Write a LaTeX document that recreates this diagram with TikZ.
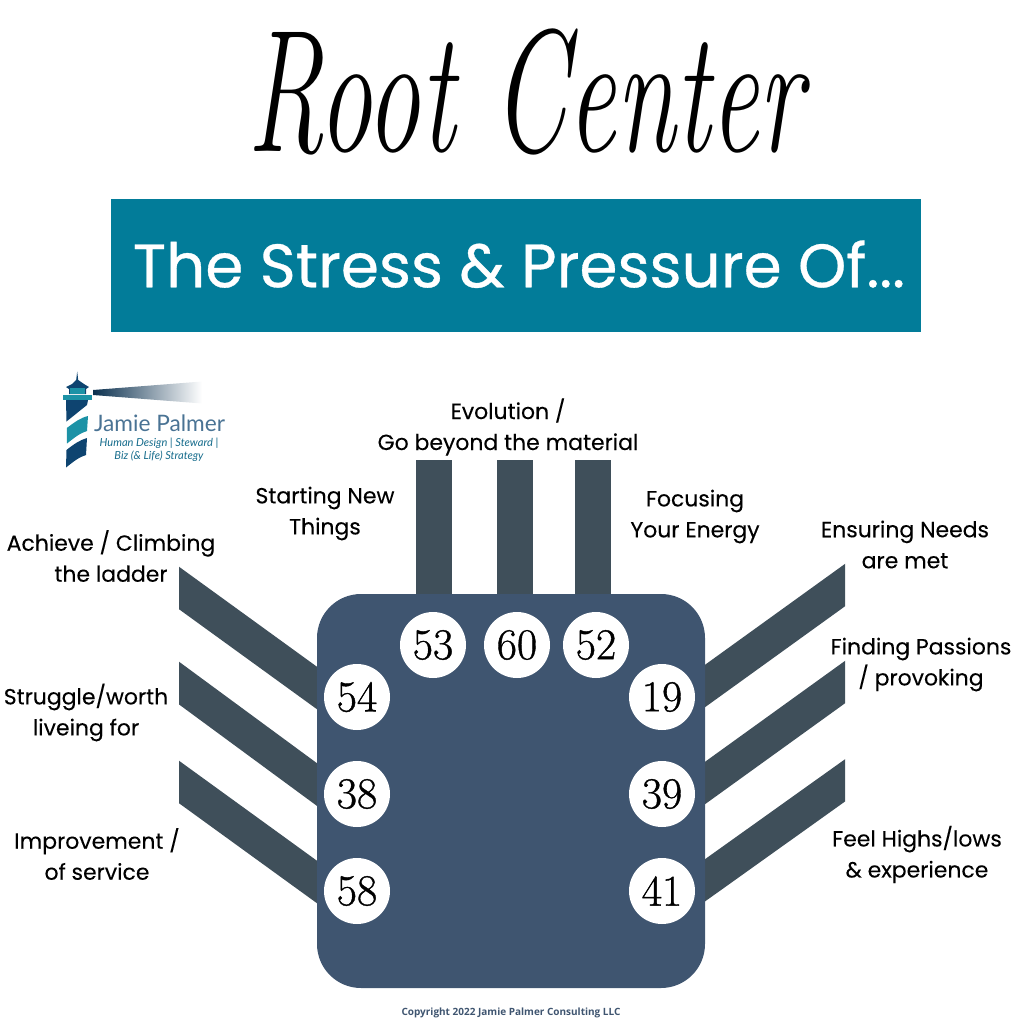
\documentclass[tikz,border=0pt]{standalone}
\usepackage{fontspec}
\setmainfont{Poppins}
\newfontfamily\labfont{Poppins}[FakeBold=0.15]
\newfontfamily\banfont{Poppins}[FakeBold=0.5]
\newfontfamily\numfont{Latin Modern Roman}[FakeBold=0.9]
\newfontfamily\ttlfont{Latin Modern Roman}
\newfontfamily\cpfont{Open Sans}
\newfontfamily\logofont{Lato}
\usetikzlibrary{backgrounds,calc}
\definecolor{banner}{HTML}{027C99}
\definecolor{bodyblue}{HTML}{3F5570}
\definecolor{connc}{HTML}{3F4F5A}
\definecolor{navy}{HTML}{0E4470}
\definecolor{tealc}{HTML}{1C92A6}
\tikzset{
  x=0.75pt,y=-0.75pt,
  gate/.style={circle,fill=white,minimum size=49.5pt,inner sep=0pt,font=\numfont\fontsize{33}{33}\selectfont,text=black},
  lab/.style={align=center,font=\labfont\fontsize{16.45}{23.25}\selectfont,text=black,inner sep=0pt},
  conn/.style={draw=connc,line width=25.8pt,line cap=butt},
  vbar/.style={draw=connc,line width=27pt,line cap=butt},
  tower/.style={fill=navy,draw=none},
}
\begin{document}
\begin{tikzpicture}
\useasboundingbox (0,0) rectangle (1024,1024);
% title
\node[inner sep=0pt,anchor=center,xscale=1.06,yscale=1.72,font=\ttlfont\itshape\fontsize{76}{76}\selectfont,text=black] (title) at (525,92) {Root Center};
% banner
\node[fill=banner,text=white,minimum width=607.5pt,minimum height=99.75pt,inner sep=0pt,font=\banfont\fontsize{46}{46}\selectfont] (banner) at (516,265.5) {\hspace*{4.5pt}\raisebox{2.5pt}{The Stress \& Pressure Of...}};
% body
\fill[bodyblue,rounded corners=33pt] (317,594) rectangle (705,988);
\node[inner sep=0pt,minimum size=0pt] (body) at (511,791) {};
% gates
\node[gate] (g53) at (433,645) {53};
\node[gate] (g60) at (517,645) {60};
\node[gate] (g52) at (596,645) {52};
\node[gate] (g54) at (357,697) {54};
\node[gate] (g38) at (357,794) {38};
\node[gate] (g58) at (357,891) {58};
\node[gate] (g19) at (662,697) {19};
\node[gate] (g39) at (662,794) {39};
\node[gate] (g41) at (662,891) {41};
% free ends
\coordinate (f53) at (434,460);
\coordinate (f60) at (515,460);
\coordinate (f52) at (593,460);
\coordinate (f54) at (79,515.5);
\coordinate (f38) at (79,609.5);
\coordinate (f58) at (79,709.5);
\coordinate (f19) at (945,513);
\coordinate (f39) at (945,610);
\coordinate (f41) at (945,709);
\begin{pgfonlayer}{background}
\draw[vbar] (f53) -- ($(g53.center)+(1,0)$);
\draw[vbar] (f60) -- ($(g60.center)+(-2,0)$);
\draw[vbar] (f52) -- ($(g52.center)+(-3,0)$);
\begin{scope}
\clip (179,450) rectangle (845,1000);
\draw[conn] (f54) -- ($(g54.center)+(0,20)$);
\draw[conn] (f38) -- ($(g38.center)+(0,20)$);
\draw[conn] (f58) -- ($(g58.center)+(0,20)$);
\draw[conn] (f19) -- ($(g19.center)+(0,20)$);
\draw[conn] (f39) -- ($(g39.center)+(0,20)$);
\draw[conn] (f41) -- ($(g41.center)+(0,20)$);
\end{scope}
\end{pgfonlayer}
% labels
\node[lab] (l60) at (508,427) {Evolution /\\Go beyond the material};
\node[lab] (l53) at (325,513.5) {Starting New\\Things};
\node[lab] (l52) at (695,516.5) {Focusing\\Your Energy};
\node[lab] (l54) at (111,556) {Achieve / Climbing\\the ladder};
\node[lab] (l38) at (86,712.5) {Struggle/worth\\liveing for};
\node[lab] (l58) at (97,854) {Improvement /\\of service};
\node[lab] (l19) at (905,544.5) {Ensuring Needs\\are met};
\node[lab] (l39) at (921,664.5) {Finding Passions\\/ provoking};
\node[lab] (l41) at (917,854.5) {Feel Highs/lows\\\& experience};
% copyright
\node[inner sep=0pt,text=bodyblue,font=\cpfont\bfseries\fontsize{7.5}{9}\selectfont] (copy) at (511,1013) {Copyright 2022 Jamie Palmer Consulting LLC};
% logo
\shade[left color=navy!70!black,right color=white,draw=none]
  (93,390) -- (202,381.5) -- (202,403.5) -- (93,395) -- cycle;
\fill[tower] (77.2,371.5) -- (78.2,380) -- (84,384) -- (89,387) -- (86,389) -- (86,394) -- (69,394) -- (69,389) -- (66,387) -- (72,384) -- (76.2,380) -- cycle;
\fill[tealc] (70,388) rectangle (85,394);
\fill[tealc] (63,394.5) rectangle (92,399.5);
\fill[tower] (66,400) -- (88,400) -- (87,405) -- (66.5,421.5) -- cycle;
\fill[tealc] (66.8,428) .. controls (75,422) and (80,418) .. (88,416) -- (87,431) .. controls (80,433) and (74,438) .. (67,443.5) -- cycle;
\fill[tower] (66.5,450) .. controls (74,444) and (80,440) .. (87,438) -- (86,455) .. controls (79,457) and (73,462) .. (66,467.5) -- cycle;
\node[inner sep=0pt,text=navy!75!white,font=\logofont\fontsize{17}{17}\selectfont] (lname) at (159.5,423) {Jamie Palmer};
\node[inner sep=0pt,align=center,text=tealc!50!navy,font=\logofont\itshape\fontsize{8.3}{10}\selectfont] (ltag) at (159,449.5) {Human Design | Steward |\\Biz (\& Life) Strategy};
\end{tikzpicture}
\end{document}
